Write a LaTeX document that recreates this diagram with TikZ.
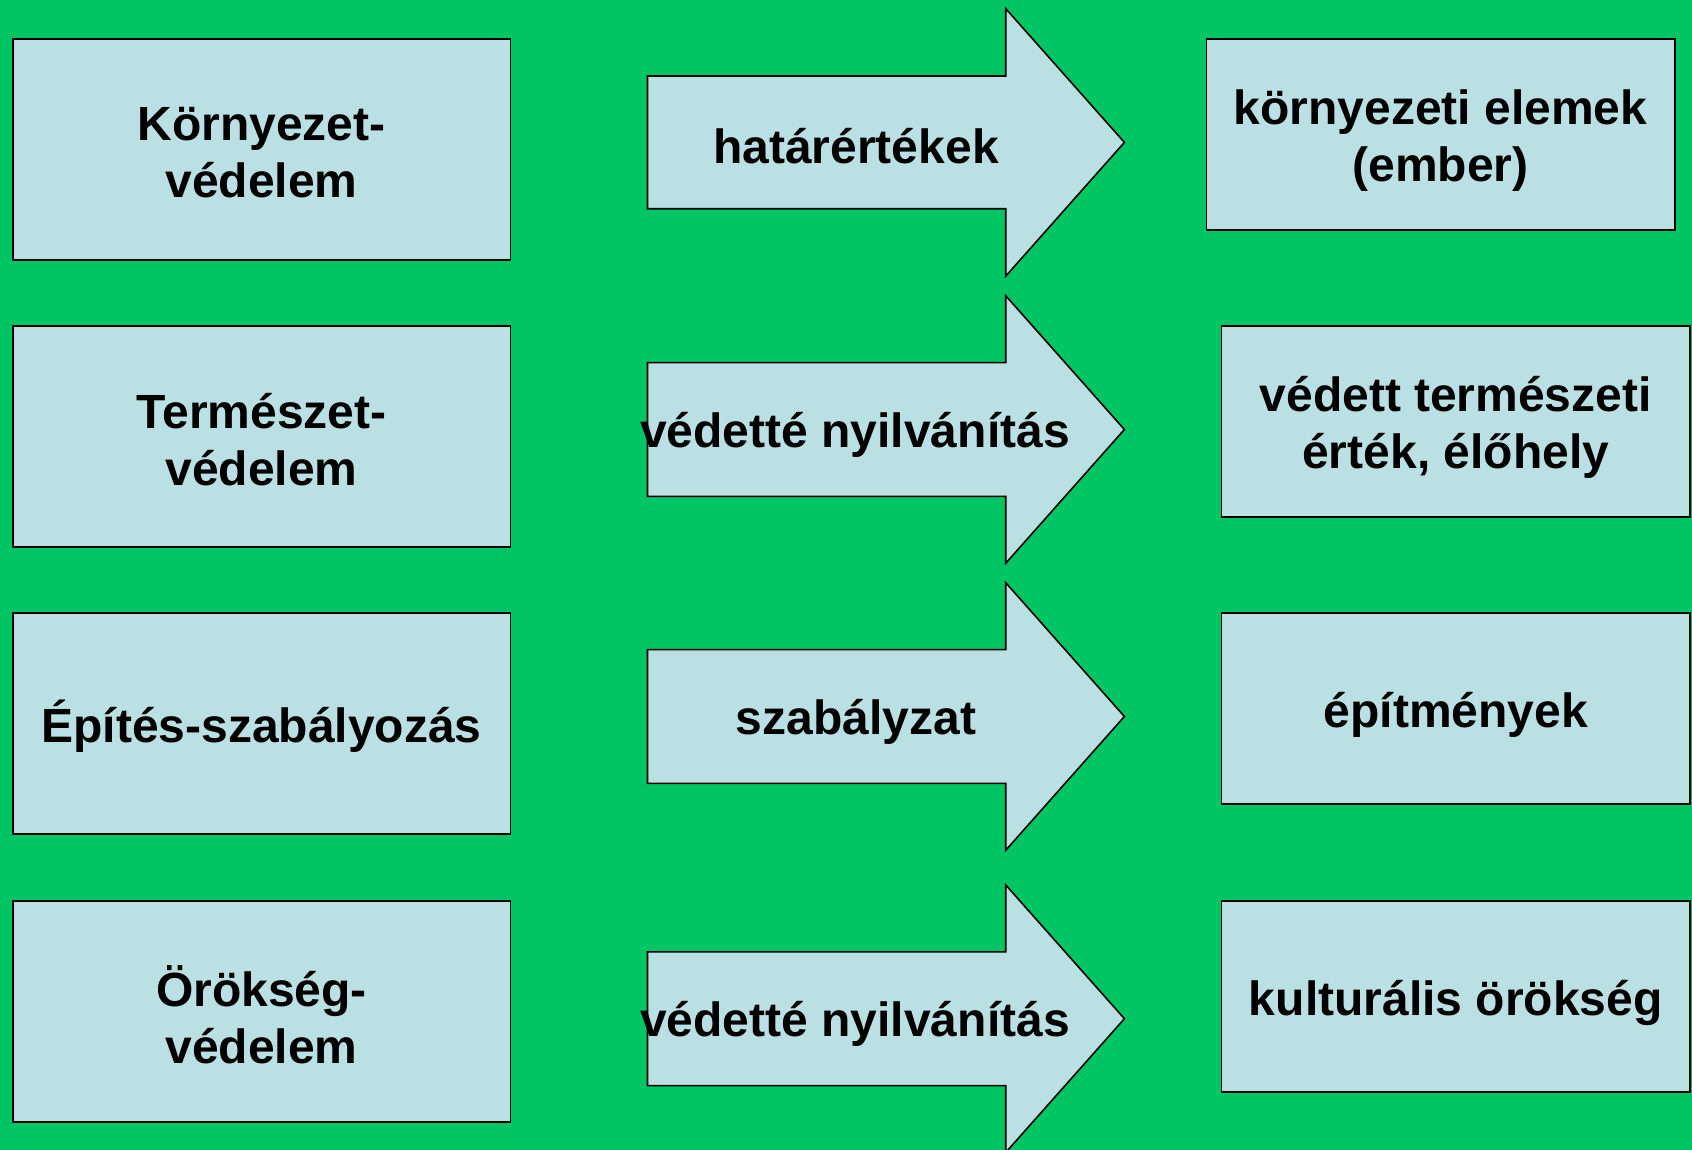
\documentclass[tikz,border=0pt]{standalone}
\usepackage{fontspec}
\setmainfont{Liberation Sans}
\definecolor{bggreen}{RGB}{0,197,100}
\definecolor{boxblue}{RGB}{187,224,227}
\begin{document}
\begin{tikzpicture}[x=1pt,y=-1pt,
  box/.style={draw=black, line width=1.6pt, fill=boxblue},
  lbl/.style={font=\fontsize{48}{57}\selectfont\bfseries, align=center, inner sep=0pt},
  leftbox/.style={box, minimum width=497.5pt, minimum height=221.3pt},
  rightbox/.style={box, minimum width=468.4pt, minimum height=191pt}]
\useasboundingbox (0,0) rectangle (1692,1150);
\clip (0,0) rectangle (1692,1150);
\fill[bggreen] (0,0) rectangle (1692,1150);
% left boxes
\node[leftbox] (l1) at (261.6,149.5) {};
\node[leftbox] (l2) at (261.6,436.5) {};
\node[leftbox] (l3) at (261.6,723.5) {};
\node[leftbox] (l4) at (261.6,1011.6) {};
\node[lbl, yshift=-3pt] (l1t) at (l1) {Környezet-\\védelem};
\node[lbl, yshift=-3pt] (l2t) at (l2) {Természet-\\védelem};
\node[lbl, yshift=-3pt] (l3t) at (l3) {Építés-szabályozás};
\node[lbl, yshift=-3pt] (l4t) at (l4) {Örökség-\\védelem};
% arrows
\foreach \c/\h in {142.4/66.4,429.5/66.9,716.5/66.9,1018.7/66.9} {
  \draw[box, shift={(0,\c)}] (647.5,-\h) -- (1005.7,-\h) -- (1005.7,-133.8)
    -- (1124.4,0) -- (1005.7,133.8) -- (1005.7,\h) -- (647.5,\h) -- cycle;
}
\node[lbl] (a1) at (856,146.4) {határértékek};
\node[lbl] (a2) at (855,434.5) {védetté nyilvánítás};
\node[lbl] (a3) at (856,722) {szabályzat};
\node[lbl] (a4) at (855,1024) {védetté nyilvánítás};
% right boxes
\node[rightbox] (r1) at (1440.6,134.3) {};
\node[rightbox] (r2) at (1455.7,421.4) {};
\node[rightbox] (r3) at (1455.7,708.4) {};
\node[rightbox] (r4) at (1455.7,996.5) {};
\node[lbl, yshift=-6pt] (r1t) at (r1) {környezeti elemek\\(ember)};
\node[lbl, yshift=-6pt] (r2t) at (r2) {védett természeti\\érték, élőhely};
\node[lbl, yshift=-6pt] (r3t) at (r3) {építmények};
\node[lbl, yshift=-6pt] (r4t) at (r4) {kulturális örökség};
\end{tikzpicture}
\end{document}
